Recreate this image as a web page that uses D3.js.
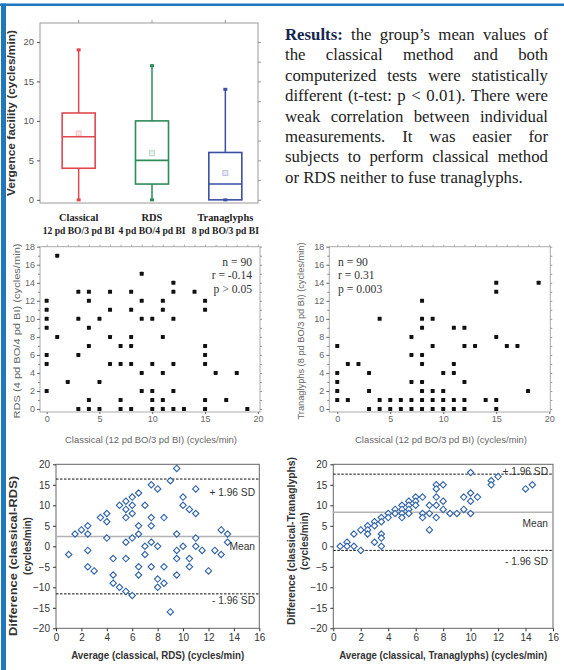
<!DOCTYPE html>
<html>
<head>
<meta charset="utf-8">
<title>Vergence facility results</title>
<style>
  body { margin:0; background:#fff; }
  #wrap { position:relative; width:564px; height:670px; overflow:hidden; }
  #txt { position:absolute; left:285px; top:25px; width:263px; font-family:"Liberation Serif", "Times New Roman", serif; font-size:16.8px; color:#222; }
  #txt div { height:20.4px; line-height:20.4px; white-space:nowrap; text-align:justify; text-align-last:justify; }
  #txt div.last { text-align-last:left; }
  #txt b { color:#15254f; }
</style>
</head>
<body>
<script src="https://cdnjs.cloudflare.com/ajax/libs/d3/7.8.5/d3.min.js"></script>
<div id="wrap"></div>
<script>
// ---- data ----
var boxCats   = ["Classical", "RDS", "Tranaglyphs"];
var boxSub    = ["12 pd BO/3 pd BI", "4 pd BO/4 pd BI", "8 pd BO/3 pd BI"];
var boxMin    = [0, 0, 0];
var boxQ1     = [4, 2, 0];
var boxMedian = [8, 5, 2];
var boxQ3     = [11, 10, 6];
var boxMax    = [19, 17, 14];
var boxMean   = [8.4, 5.9, 3.4];
var boxColors = ["#e0474f", "#2f8a5c", "#3b4fa3"];

// classical (x) vs RDS (y)
var classicalRds = [
  [0,12],[0,11],[0,10],[0,9],[0,6],[0,5],[0,2],[1,17],[1,8],[2,3],
  [3,13],[3,10],[3,6],[3,0],[4,13],[4,12],[4,9],[4,7],[4,1],[4,0],
  [5,10],[5,3],[5,0],[6,13],[6,11],[6,8],[6,5],[7,7],[7,5],[7,1],[7,0],
  [8,13],[8,11],[8,8],[8,7],[8,5],[8,0],[9,15],[9,12],[9,10],[9,4],[9,2],
  [10,10],[10,5],[10,2],[10,1],[10,0],[11,12],[11,11],[11,8],[11,4],[11,1],[11,0],
  [12,14],[12,13],[12,10],[12,5],[12,2],[12,0],[13,0],[14,13],
  [15,12],[15,11],[15,7],[15,6],[15,5],[15,1],[15,0],[16,4],[17,1],[18,4],[19,0]
];
var statsRds = ["n = 90", "r = -0.14", "p > 0.05"];

// classical (x) vs Tranaglyphs (y)
var classicalTran = [
  [0,7],[0,4],[0,3],[0,2],[0,1],[1,5],[1,1],[2,5],[3,4],[3,2],[3,0],
  [4,10],[4,1],[4,0],[5,1],[5,0],[6,1],[6,0],[7,8],[7,6],[7,3],[7,1],[7,0],
  [8,12],[8,10],[8,9],[8,6],[8,5],[8,3],[8,2],[8,1],[8,0],
  [9,10],[9,7],[9,2],[9,1],[9,0],[10,4],[10,2],[10,1],[10,0],
  [11,9],[11,5],[11,4],[11,1],[11,0],[12,9],[12,7],[12,3],[12,1],[12,0],
  [13,7],[14,1],[15,14],[15,13],[15,8],[15,1],[15,0],[16,7],[17,7],[18,2],[19,14]
];
var statsTran = ["n = 90", "r = 0.31", "p = 0.003"];

// Bland-Altman: [average, difference]
var baRds = [
  [1,-2],[1.5,3],[2,4],[2.5,5],[2.5,3],[2.5,-1],[2.5,-5],[3,-6],[3.5,7],
  [4,8],[4,6],[4,2],[4.5,-3],[4.5,-7],[4.5,-9],[5,10],[5,-10],
  [5.5,11],[5.5,9],[5.5,7],[5.5,1],[5.5,-3],[5.5,-11],
  [6,12],[6,10],[6,8],[6,2],[6,-12],[6.5,13],[6.5,5],[6.5,3],[6.5,-5],[6.5,-7],
  [7,10],[7,0],[7,-2],[7.5,15],[7.5,7],[7.5,5],[7.5,1],[7.5,-5],
  [8,14],[8,0],[8,-8],[8,-10],[8.5,7],[8.5,-5],[8.5,-9],[9,16],[9,-16],
  [9.5,19],[9.5,3],[9.5,-1],[9.5,-3],[9.5,-7],[10,12],[10,10],[10,0],
  [10.5,9],[10.5,-3],[10.5,-5],[11,14],[11,8],[11,2],[11,0],
  [11.5,-1],[12,-6],[12.5,-1],[13,4],[13,-2],[13.5,3],[13.5,1]
];
var baRdsLines = [16.4, 2.4, -11.6];   // +1.96 SD, mean, -1.96 SD

var baTran = [
  [0.5,0],[1,1],[1,0],[1.5,3],[1.5,0],[2,4],[2,-1],[2.5,5],[2.5,4],[2.5,3],
  [3,6],[3,5],[3,1],[3.5,7],[3.5,6],[3.5,3],[3.5,2],[3.5,0],[4,8],[4,7],
  [4.5,9],[4.5,8],[5,10],[5,9],[5,8],[5,7],[5.5,11],[5.5,10],[5.5,9],[5.5,8],
  [6,12],[6,11],[6,10],[6.5,12],[6.5,8],[6.5,7],[7,10],[7,8],[7,4],
  [7.5,15],[7.5,14],[7.5,12],[7.5,10],[7.5,7],[8,15],[8,11],[8,9],
  [8.5,8],[9,8],[9.5,12],[9.5,9],[10,18],[10,13],[10,11],[10,8],[10.5,12],
  [11.5,16],[11.5,15],[12,17],[14,14],[14.5,15]
];
var baTranLines = [17.6, 8.3, -1.0];

var baLabels = ["+ 1.96 SD", "Mean", "- 1.96 SD"];

var resultLines = [
  "the group\u2019s mean values of",
  "the classical method and both",
  "computerized tests were statistically",
  "different (t-test: p < 0.01). There were",
  "weak correlation between individual",
  "measurements. It was easier for",
  "subjects to perform classical method",
  "or RDS neither to fuse tranaglyphs."
];

// ---- drawing ----
var SANS = "'Liberation Sans', Arial, sans-serif";
var SERIF = "'Liberation Serif', 'Times New Roman', serif";

var svg = d3.select("#wrap").append("svg")
  .attr("width", 564).attr("height", 670)
  .style("position", "absolute").style("left", 0).style("top", 0);

// blue page border
svg.append("rect").attr("x", 0).attr("y", 3.5).attr("width", 564).attr("height", 2.5).attr("fill", "#1f78bd");
svg.append("rect").attr("x", 1).attr("y", 3.5).attr("width", 5).attr("height", 670).attr("fill", "#1f78bd");

function styleAxis(g, size, color) {
  g.select(".domain").remove();
  g.selectAll("text").attr("font-family", SANS).attr("font-size", size).attr("fill", color);
  g.selectAll("line").attr("stroke", color);
}

function frame(x0, y0, x1, y1, color) {
  svg.append("rect").attr("x", x0).attr("y", y0).attr("width", x1 - x0).attr("height", y1 - y0)
    .attr("fill", "none").attr("stroke", color).attr("stroke-width", 1);
}

// rotated title stretched to a fixed length
function vTitle(x, yc, text, size, len, bold, color) {
  var t = svg.append("text").attr("transform", "translate(" + x + "," + yc + ") rotate(-90)")
    .attr("text-anchor", "middle").attr("font-family", SANS).attr("font-size", size)
    .attr("fill", color).text(text);
  if (bold) t.attr("font-weight", "bold");
  if (len) t.attr("textLength", len).attr("lengthAdjust", "spacingAndGlyphs");
  return t;
}

// ---------- box plot ----------
(function () {
  var L = 40, R = 258, T = 23, B = 203;
  var y = d3.scaleLinear().domain([-0.4, 22.4]).range([B, T]);
  var x = d3.scaleBand().domain(boxCats).range([42, 262]);
  var cx = function (i) { return x(boxCats[i]) + x.bandwidth() / 2; };
  var bw = 33;

  frame(L, T, R, B, "#999");
  var ga = svg.append("g").attr("transform", "translate(" + L + ",0)")
    .call(d3.axisLeft(y).tickValues([0, 5, 10, 15, 20]).tickSize(3).tickPadding(3));
  styleAxis(ga, 9.4, "#555");
  var gr = svg.append("g").attr("transform", "translate(" + R + ",0)")
    .call(d3.axisLeft(y).tickValues(d3.range(0, 22.5, 2.5)).tickSize(-3).tickFormat(""));
  styleAxis(gr, 9, "#999");
  var gt = svg.append("g").attr("transform", "translate(0," + T + ")")
    .call(d3.axisBottom(x).tickSize(-3).tickFormat(""));
  styleAxis(gt, 9, "#999");

  vTitle(15, 113, "Vergence facility (cycles/min)", 10.5, 166, true, "#333");

  boxCats.forEach(function (c, i) {
    var g = svg.append("g"), col = boxColors[i], xc = cx(i);
    g.append("line").attr("x1", xc).attr("x2", xc).attr("y1", y(boxMax[i])).attr("y2", y(boxQ3[i]))
      .attr("stroke", col).attr("stroke-width", 1.5);
    g.append("line").attr("x1", xc).attr("x2", xc).attr("y1", y(boxQ1[i])).attr("y2", y(boxMin[i]))
      .attr("stroke", col).attr("stroke-width", 1.5);
    g.append("rect").attr("x", xc - bw / 2).attr("y", y(boxQ3[i])).attr("width", bw)
      .attr("height", y(boxQ1[i]) - y(boxQ3[i])).attr("fill", "none").attr("stroke", col).attr("stroke-width", 1.6);
    g.append("line").attr("x1", xc - bw / 2).attr("x2", xc + bw / 2).attr("y1", y(boxMedian[i])).attr("y2", y(boxMedian[i]))
      .attr("stroke", col).attr("stroke-width", 1.6);
    [boxMax[i], boxMin[i]].forEach(function (v) {
      g.append("rect").attr("x", xc - 2).attr("y", y(v) - 1.5).attr("width", 4).attr("height", 3).attr("fill", col);
    });
    g.append("rect").attr("x", xc - 2.5).attr("y", y(boxMean[i]) - 2.5).attr("width", 5).attr("height", 5)
      .attr("fill", col).attr("fill-opacity", 0.12).attr("stroke", col).attr("stroke-opacity", 0.3);
    svg.append("text").attr("x", xc).attr("y", 220.5).attr("text-anchor", "middle")
      .attr("font-family", SERIF).attr("font-weight", "bold").attr("font-size", 10.4).attr("fill", "#222").text(c);
    svg.append("text").attr("x", xc).attr("y", 233.5).attr("text-anchor", "middle")
      .attr("font-family", SERIF).attr("font-weight", "bold").attr("font-size", 9.6).attr("fill", "#222").text(boxSub[i]);
  });
})();

// ---------- scatter plots ----------
function scatter(o) {
  var x = d3.scaleLinear().domain(o.xd).range([o.L, o.R]);
  var y = d3.scaleLinear().domain([-0.33, 18]).range([412, 246.7]);
  frame(o.L, 246.7, o.R, 412, "#aaa");
  var gl = svg.append("g").attr("transform", "translate(" + o.L + ",0)")
    .call(d3.axisLeft(y).tickValues(d3.range(0, 19, 2)).tickSize(3).tickPadding(2));
  styleAxis(gl, 9, "#666");
  var gm = svg.append("g").attr("transform", "translate(" + o.L + ",0)")
    .call(d3.axisLeft(y).tickValues(d3.range(1, 18, 2)).tickSize(2).tickFormat(""));
  styleAxis(gm, 8, "#888");
  var gr = svg.append("g").attr("transform", "translate(" + o.R + ",0)")
    .call(d3.axisLeft(y).tickValues(d3.range(0, 19, 1)).tickSize(-2).tickFormat(""));
  styleAxis(gr, 8, "#999");
  var gb = svg.append("g").attr("transform", "translate(0,412)")
    .call(d3.axisBottom(x).tickValues([0, 5, 10, 15, 20]).tickSize(2).tickPadding(1.5));
  styleAxis(gb, 9, "#666");
  var gt = svg.append("g").attr("transform", "translate(0,246.7)")
    .call(d3.axisBottom(x).tickValues(d3.range(0, 21, 1)).tickSize(-2).tickFormat(""));
  styleAxis(gt, 8, "#aaa");

  svg.append("g").selectAll("rect").data(o.data).enter().append("rect")
    .attr("x", function (d) { return x(d[0]) - 2; })
    .attr("y", function (d) { return y(d[1]) - 2; })
    .attr("width", 4).attr("height", 4).attr("rx", 0.6).attr("fill", "#111");

  svg.append("text").attr("x", o.xtx).attr("y", 443).attr("text-anchor", "middle")
    .attr("font-family", SANS).attr("font-size", 9).attr("fill", "#666")
    .attr("textLength", 172).attr("lengthAdjust", "spacingAndGlyphs")
    .text("Classical (12 pd BO/3 pd BI) (cycles/min)");
  vTitle(o.ytx, 331, o.ytitle, 9.2, o.ylen, false, "#666");

  svg.append("g").selectAll("text").data(o.stats).enter().append("text")
    .attr("x", o.sx).attr("y", function (d, i) { return 265.5 + i * 13.5; })
    .attr("text-anchor", o.anchor).attr("font-family", SERIF).attr("font-size", 11.6).attr("fill", "#333")
    .text(function (d) { return d; });
}

scatter({ L: 40, R: 260, xd: [-0.63, 20.2], data: classicalRds, stats: statsRds,
  sx: 252, anchor: "end", ytx: 20, ylen: 175, xtx: 151,
  ytitle: "RDS (4 pd BO/4 pd BI) (cycles/min)" });
scatter({ L: 329.3, R: 550.3, xd: [-0.75, 20.1], data: classicalTran, stats: statsTran,
  sx: 338, anchor: "start", ytx: 304, ylen: 177, xtx: 441,
  ytitle: "Tranaglyphs (8 pd BO/3 pd BI) (cycles/min)" });

// ---------- Bland-Altman plots ----------
function blandAltman(o) {
  var T = 464.3, B = 628.3;
  var x = d3.scaleLinear().domain([0, 16]).range([o.L, o.R]);
  var y = d3.scaleLinear().domain([-20, 20]).range([B, T]);
  frame(o.L, T, o.R, B, "#666");
  var gl = svg.append("g").attr("transform", "translate(" + o.L + ",0)")
    .call(d3.axisLeft(y).tickValues(d3.range(-20, 21, 5)).tickSize(3).tickPadding(3));
  styleAxis(gl, 10, "#333");
  var gb = svg.append("g").attr("transform", "translate(0," + B + ")")
    .call(d3.axisBottom(x).tickValues(d3.range(0, 17, 2)).tickSize(3).tickPadding(3));
  styleAxis(gb, 10, "#333");

  // mean & limits
  svg.append("line").attr("x1", o.L).attr("x2", o.R).attr("y1", y(o.lines[1])).attr("y2", y(o.lines[1]))
    .attr("stroke", "#b3b3b3").attr("stroke-width", 1.6);
  [o.lines[0], o.lines[2]].forEach(function (v) {
    svg.append("line").attr("x1", o.L).attr("x2", o.R).attr("y1", y(v)).attr("y2", y(v))
      .attr("stroke", "#111").attr("stroke-width", 1).attr("stroke-dasharray", "2.5,1.5");
  });

  svg.append("g").selectAll("path").data(o.data).enter().append("path")
    .attr("d", function (d) {
      var cx = x(d[0]), cy = y(d[1]), r = 3.2;
      return "M" + cx + "," + (cy - r) + "L" + (cx + r) + "," + cy + "L" + cx + "," + (cy + r) + "L" + (cx - r) + "," + cy + "Z";
    })
    .attr("fill", "#fff").attr("stroke", "#2f62a8").attr("stroke-width", 1.1);

  svg.append("g").selectAll("text").data(baLabels).enter().append("text")
    .attr("x", o.labX).attr("y", function (d, i) { return o.labY[i] + 3.6; })
    .attr("text-anchor", "end").attr("font-family", SANS).attr("font-size", 10.2).attr("fill", "#333")
    .text(function (d) { return d; });

  svg.append("text").attr("x", (o.L + o.R) / 2).attr("y", 659).attr("text-anchor", "middle")
    .attr("font-family", SANS).attr("font-weight", "bold").attr("font-size", 10).attr("fill", "#333")
    .attr("textLength", o.xlen).attr("lengthAdjust", "spacingAndGlyphs").text(o.xtitle);
  vTitle(o.ytx[0], o.yc[0], o.ytitle[0], 10.2, o.ylen, true, "#333");
  vTitle(o.ytx[1], o.yc[1], o.ytitle[1], 10, null, true, "#333");
}

blandAltman({ L: 56, R: 259.3, data: baRds, lines: baRdsLines,
  labX: 255, labY: [492, 546.7, 600],
  xtitle: "Average (classical, RDS) (cycles/min)", xlen: 173,
  ytitle: ["Difference (classical-RDS)", "(cycles/min)"], ytx: [17, 31], yc: [556, 546], ylen: 160 });
blandAltman({ L: 333.3, R: 553, data: baTran, lines: baTranLines,
  labX: 548, labY: [471.7, 523, 561.7],
  xtitle: "Average (classical, Tranaglyphs) (cycles/min)", xlen: 208,
  ytitle: ["Difference (classical-Tranaglyphs)", "(cycles/min)"], ytx: [295, 308], yc: [541, 541], ylen: 168 });

// ---------- results text ----------
var txt = d3.select("#wrap").append("div").attr("id", "txt");
resultLines.forEach(function (line, i) {
  var d = txt.append("div").classed("last", i === resultLines.length - 1);
  if (i === 0) {
    d.append("b").text("Results:");
    d.append("span").text(" " + line);
  } else {
    d.text(line);
  }
});
</script>
</body>
</html>
